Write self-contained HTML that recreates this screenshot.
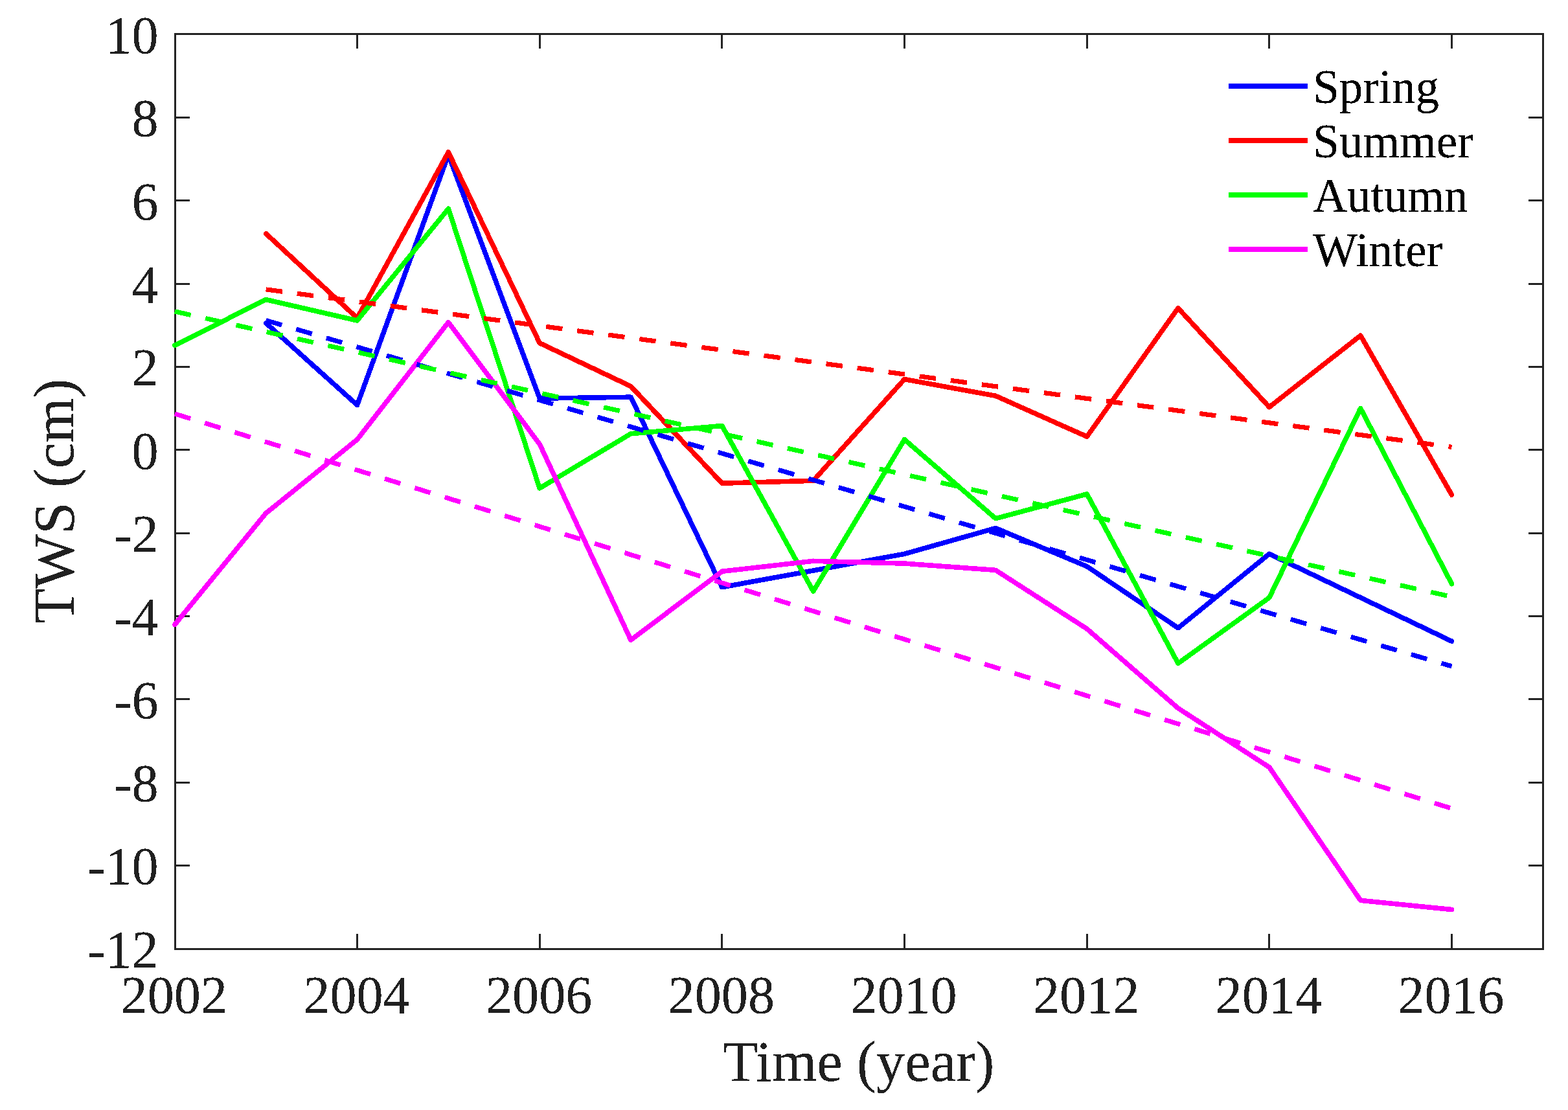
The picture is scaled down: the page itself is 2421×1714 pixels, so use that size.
<!DOCTYPE html>
<html lang="en"><head><meta charset="utf-8"><title>TWS seasonal trends</title>
<style>html,body{margin:0;padding:0;background:#fff}body{width:2421px;height:1714px;overflow:hidden}svg{display:block}text{font-family:"Liberation Serif",serif}</style></head><body>
<svg width="2421" height="1714" viewBox="0 0 2421 1714">
<rect width="2421" height="1714" fill="#ffffff"/>
<defs><filter id="bw" x="0" y="0" width="2421" height="1714" filterUnits="userSpaceOnUse" color-interpolation-filters="sRGB"><feComponentTransfer><feFuncA type="discrete" tableValues="0 0 1 1 1"/></feComponentTransfer></filter></defs>
<g fill="none" stroke="#232323" stroke-width="3" stroke-linecap="butt" shape-rendering="crispEdges">
<rect x="270.5" y="52.5" width="2112.0" height="1413.0"/>
<path d="M551.5 1465.5V1442.0M551.5 52.5V75.0M833.5 1465.5V1442.0M833.5 52.5V75.0M1114.5 1465.5V1442.0M1114.5 52.5V75.0M1396.5 1465.5V1442.0M1396.5 52.5V75.0M1678.5 1465.5V1442.0M1678.5 52.5V75.0M1959.5 1465.5V1442.0M1959.5 52.5V75.0M2241.5 1465.5V1442.0M2241.5 52.5V75.0M270.5 1336.5H293.0M2382.5 1336.5H2360.0M270.5 1208.5H293.0M2382.5 1208.5H2360.0M270.5 1079.5H293.0M2382.5 1079.5H2360.0M270.5 951.5H293.0M2382.5 951.5H2360.0M270.5 823.5H293.0M2382.5 823.5H2360.0M270.5 694.5H293.0M2382.5 694.5H2360.0M270.5 566.5H293.0M2382.5 566.5H2360.0M270.5 438.5H293.0M2382.5 438.5H2360.0M270.5 309.5H293.0M2382.5 309.5H2360.0M270.5 181.5H293.0M2382.5 181.5H2360.0"/>
</g>
<g shape-rendering="crispEdges" fill="none" stroke-linejoin="round" stroke-linecap="round" stroke-width="7.6">
<polyline stroke="#0000ff" points="410.7,498.9 551.5,625.4 692.3,238.8 833.2,615.1 974.0,613.2 1114.8,906.7 1255.7,881.0 1396.5,855.3 1537.3,815.5 1678.2,874.6 1819.0,969.7 1959.8,855.3 2100.7,922.8 2241.5,990.2"/>
<polyline stroke="#ff0000" points="410.7,360.8 551.5,491.2 692.3,234.9 833.2,529.7 974.0,596.5 1114.8,746.2 1255.7,742.3 1396.5,585.6 1537.3,611.3 1678.2,674.2 1819.0,475.8 1959.8,628.6 2100.7,518.1 2241.5,764.1"/>
<polyline stroke="#00ff00" points="269.8,533.2 410.7,462.6 551.5,495.0 692.3,322.3 833.2,753.9 974.0,669.7 1114.8,657.5 1255.7,913.1 1396.5,678.7 1537.3,800.7 1678.2,762.9 1819.0,1024.3 1959.8,922.8 2100.7,630.5 2241.5,901.6"/>
<polyline stroke="#ff00ff" points="269.8,964.5 410.7,792.4 551.5,678.7 692.3,497.6 833.2,685.8 974.0,988.3 1114.8,882.3 1255.7,866.3 1396.5,870.1 1537.3,880.4 1678.2,971.0 1819.0,1093.6 1959.8,1184.8 2100.7,1390.4 2241.5,1404.5"/>
</g>
<g shape-rendering="crispEdges" fill="none" stroke-linecap="butt" stroke-width="7.2" stroke-dasharray="25.5 22.97">
<line stroke="#0000ff" x1="410.7" y1="494.7" x2="2241.5" y2="1028.8"/>
<line stroke="#ff0000" x1="410.7" y1="446.9" x2="2241.5" y2="690.3"/>
<line stroke="#00ff00" x1="269.8" y1="480.9" x2="2241.5" y2="921.5"/>
<line stroke="#ff00ff" x1="269.8" y1="638.9" x2="2241.5" y2="1248.4"/>
</g>
<g filter="url(#bw)">
<g fill="#202020" font-size="82.2">
<g text-anchor="end">
<text x="244.6" y="1493.7">-12</text>
<text x="244.6" y="1365.4">-10</text>
<text x="244.6" y="1237.0">-8</text>
<text x="244.6" y="1108.7">-6</text>
<text x="244.6" y="980.4">-4</text>
<text x="244.6" y="852.0">-2</text>
<text x="244.6" y="723.7">0</text>
<text x="244.6" y="595.4">2</text>
<text x="244.6" y="467.0">4</text>
<text x="244.6" y="338.7">6</text>
<text x="244.6" y="210.4">8</text>
<text x="244.6" y="82.0">10</text>
</g><g text-anchor="middle">
<text x="268.8" y="1564.1">2002</text>
<text x="550.5" y="1564.1">2004</text>
<text x="832.2" y="1564.1">2006</text>
<text x="1113.8" y="1564.1">2008</text>
<text x="1395.5" y="1564.1">2010</text>
<text x="1677.2" y="1564.1">2012</text>
<text x="1958.8" y="1564.1">2014</text>
<text x="2240.5" y="1564.1">2016</text>
</g></g>
<g fill="#202020" font-size="89" text-anchor="middle">
<text x="1325.8" y="1668.8">Time (year)</text>
<text transform="translate(113.3 774.0) rotate(-90)">TWS (cm)</text>
</g>
<g stroke-width="8" fill="none">
<line stroke="#0000ff" x1="1897" y1="133.0" x2="2019" y2="133.0"/>
<line stroke="#ff0000" x1="1897" y1="217.0" x2="2019" y2="217.0"/>
<line stroke="#00ff00" x1="1897" y1="301.0" x2="2019" y2="301.0"/>
<line stroke="#ff00ff" x1="1897" y1="385.0" x2="2019" y2="385.0"/>
</g><g fill="#000000" font-size="73">
<text x="2027.2" y="158.7">Spring</text>
<text x="2027.2" y="242.7">Summer</text>
<text x="2027.2" y="326.7">Autumn</text>
<text x="2027.2" y="410.7">Winter</text>
</g>
</g>
</svg></body></html>
